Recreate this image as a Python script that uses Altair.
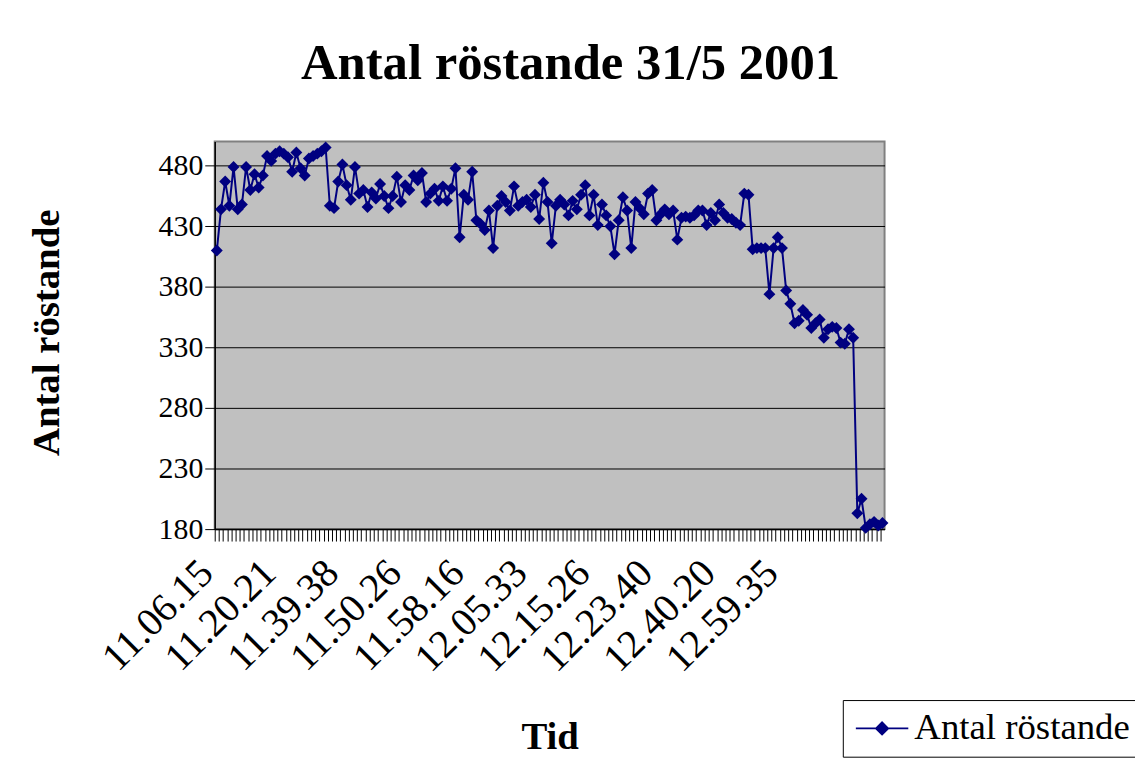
import altair as alt
import pandas as pd

title_text = "Antal röstande 31/5 2001"
series_name = "Antal röstande"
x_title = "Tid"
y_title = "Antal röstande"

tick_labels = ["11.06.15", "11.20.21", "11.39.38", "11.50.26", "11.58.16",
               "12.05.33", "12.15.26", "12.23.40", "12.40.20", "12.59.35"]
label_every = 15

voters = [
    410, 444, 467, 447, 479, 444, 448, 479, 460, 473,
    462, 472, 488, 484, 490, 492, 490, 487, 475, 491,
    478, 472, 486, 488, 490, 492, 495, 447, 445, 467,
    481, 464, 452, 479, 457, 460, 446, 458, 453, 465,
    455, 445, 455, 471, 450, 464, 460, 472, 468, 474,
    450, 457, 461, 451, 463, 451, 461, 478, 421, 456,
    452, 475, 435, 432, 427, 443, 412, 447, 455, 450,
    443, 463, 447, 450, 452, 446, 456, 436, 466, 450,
    416, 447, 452, 448, 439, 451, 444, 456, 464, 439,
    456, 431, 448, 439, 430, 407, 435, 454, 443, 412,
    450, 445, 440, 457, 460, 435, 440, 444, 440, 443,
    419, 437, 438, 437, 439, 443, 443, 431, 441, 435,
    448, 441, 437, 436, 433, 431, 457, 456, 411, 412,
    412, 412, 374, 412, 421, 412, 377, 366, 350, 352,
    361, 357, 346, 350, 353, 338, 345, 347, 346, 334,
    333, 345, 338, 193, 205, 181, 184, 186, 183, 185,
]

y_ticks = [180, 230, 280, 330, 380, 430, 480]
y_domain = [180, 500]

df = pd.DataFrame({
    "idx": list(range(len(voters))),
    "voters": voters,
    "serie": [series_name] * len(voters),
})

label_js = "[" + ",".join(f"'{t}'" for t in tick_labels) + "]"
label_expr = (f"datum.value % {label_every} == 0 ? "
              f"{label_js}[datum.value / {label_every}] : ''")

FONT = "Liberation Serif"
NAVY = "#000080"
PLOT_W = 674
step = PLOT_W / len(voters)

x_enc = alt.X(
    "idx:O",
    sort=None,
    scale=alt.Scale(type="point", padding=0.5),
    axis=alt.Axis(
        title=x_title,
        labelExpr=label_expr,
        labelAngle=-45,
        labelAlign="right",
        labelBaseline="alphabetic",
        labelOverlap=False,
        labelFont=FONT,
        labelFontSize=40,
        labelColor="black",
        labelPadding=34,
        tickOffset=-step / 2,
        tickSize=12,
        tickColor="black",
        tickWidth=1,
        domainColor="black",
        domainWidth=1.5,
        titleFont=FONT,
        titleFontSize=39,
        titleFontWeight="bold",
        titleColor="black",
        titleY=221,
        titleBaseline="alphabetic",
    ),
)

y_enc = alt.Y(
    "voters:Q",
    scale=alt.Scale(domain=y_domain, nice=False, zero=False),
    axis=alt.Axis(
        values=y_ticks,
        title=y_title,
        grid=True,
        gridColor="black",
        gridWidth=1,
        tickSize=10,
        tickColor="black",
        domainColor="black",
        domainWidth=1.5,
        labelFont=FONT,
        labelFontSize=30,
        labelColor="black",
        labelPadding=2,
        titleFont=FONT,
        titleFontSize=39,
        titleFontWeight="bold",
        titleColor="black",
        titleAngle=-90,
        titleX=-157,
        titleY=192,
        titleAlign="center",
        titleBaseline="alphabetic",
    ),
)

legend_symbol = "M-4.4,0H4.4M0,-1L1,0L0,1L-1,0Z"

line = alt.Chart(df).mark_line(strokeWidth=2).encode(
    x=x_enc,
    y=y_enc,
    color=alt.Color(
        "serie:N",
        scale=alt.Scale(range=[NAVY]),
        legend=alt.Legend(
            title=None,
            orient="none",
            legendX=632,
            legendY=562,
            symbolType=legend_symbol,
            symbolSize=144,
            symbolStrokeWidth=2,
            symbolFillColor=NAVY,
            symbolStrokeColor=NAVY,
            symbolOffset=11,
            labelOffset=14,
            labelLimit=400,
            labelFont=FONT,
            labelFontSize=37,
            labelColor="black",
            strokeColor="black",
            fillColor="white",
            padding=10,
        ),
    ),
)

points = alt.Chart(df).mark_point(
    shape="diamond", filled=True, size=144, opacity=1, color=NAVY
).encode(x=x_enc, y=y_enc)

chart = alt.layer(line, points).properties(
    width=PLOT_W,
    height=390,
    title=alt.TitleParams(
        text=title_text,
        font=FONT,
        fontSize=51,
        fontWeight="bold",
        color="black",
        anchor="middle",
        frame="group",
        dx=21,
        offset=52,
    ),
    autosize=alt.AutoSizeParams(type="none"),
    padding={"left": 208, "top": 132, "right": 252, "bottom": 236},
).configure(background="white").configure_view(
    fill="#C0C0C0", stroke="#808080", strokeWidth=2
)

chart.save("out.html", embed_options={"renderer": "svg", "actions": False})
